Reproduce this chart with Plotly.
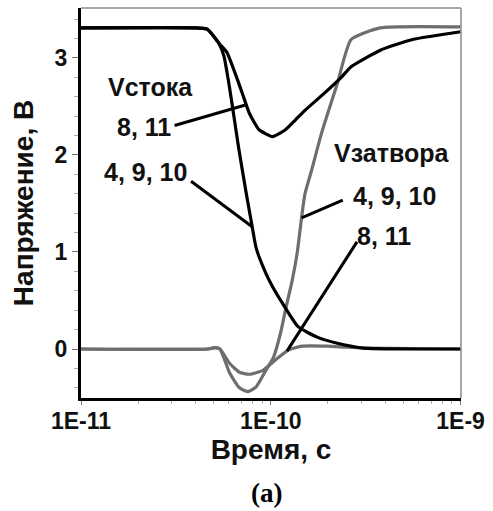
import numpy as np
import plotly.graph_objects as go

# ---- data (time as log10 seconds, voltage in V) ----
drain_a_logt = [-11.0, -10.4, -10.34, -10.320, -10.273, -10.247, -10.222, -10.196, -10.170,
                -10.129, -10.098, -10.077, -10.026, -9.990, -9.938, -9.856, -9.753,
                -9.650, -9.510, -9.0]
drain_a_v = [3.31, 3.31, 3.30, 3.27, 3.15, 3.02, 2.75, 2.42, 2.08,
             1.60, 1.26, 1.04, 0.78, 0.64, 0.47, 0.23, 0.12,
             0.06, 0.01, 0.0]

drain_b_logt = [-11.0, -10.4, -10.34, -10.320, -10.273, -10.232, -10.180, -10.144, -10.113,
                -10.062, -9.990, -9.923, -9.871, -9.820, -9.716, -9.629, -9.577,
                -9.423, -9.253, -9.0]
drain_b_v = [3.31, 3.31, 3.30, 3.27, 3.15, 3.06, 2.80, 2.60, 2.43,
             2.26, 2.19, 2.26, 2.36, 2.46, 2.64, 2.80, 2.91,
             3.08, 3.19, 3.27]

gate_a_logt = [-11.0, -10.33, -10.294, -10.268, -10.216, -10.165, -10.119, -10.077, -10.026,
               -9.985, -9.948, -9.923, -9.887, -9.861, -9.835, -9.820, -9.784, -9.732,
               -9.649, -9.577, -9.423, -9.0]
gate_a_v = [0.0, 0.0, 0.015, 0.0, -0.25, -0.40, -0.44, -0.39, -0.22,
            -0.08, 0.17, 0.40, 0.71, 0.99, 1.40, 1.60, 1.85, 2.23,
            2.74, 3.19, 3.31, 3.32]

gate_b_logt = [-11.0, -10.33, -10.294, -10.268, -10.216, -10.165, -10.113, -10.041, -9.974,
               -9.907, -9.835, -9.701, -9.613, -9.510, -9.0]
gate_b_v = [0.0, 0.0, 0.015, 0.0, -0.15, -0.24, -0.26, -0.22, -0.11,
            -0.01, 0.03, 0.03, 0.02, 0.01, 0.0]

x_tickvals = [1e-11, 1e-10, 1e-9]
x_ticktext = ["1E-11", "1E-10", "1E-9"]
y_tickvals = [0, 1, 2, 3]

BLACK = "#000000"
GRAY = "#6e6e6e"
FONT = "Arial, Liberation Sans, sans-serif"

def t(logs):
    return [10 ** v for v in logs]

fig = go.Figure()
for lx, ly, col in [(gate_b_logt, gate_b_v, GRAY), (gate_a_logt, gate_a_v, GRAY),
                    (drain_b_logt, drain_b_v, BLACK), (drain_a_logt, drain_a_v, BLACK)]:
    fig.add_trace(go.Scatter(x=t(lx), y=ly, mode="lines",
                             line=dict(color=col, width=3.2, shape="spline", smoothing=0.5),
                             showlegend=False, hoverinfo="skip"))

# ---- labels and leader lines ----
labels = [
    ("Vстока", -10.634, 2.70),
    ("8, 11", -10.670, 2.29),
    ("4, 9, 10", -10.660, 1.82),
    ("Vзатвора", -9.361, 2.02),
    ("4, 9, 10", -9.351, 1.58),
    ("8, 11", -9.405, 1.16),
]
for txt, lx, ly in labels:
    fig.add_annotation(x=lx, y=ly, xref="x", yref="y", text=txt, showarrow=False,
                       font=dict(family=FONT, size=25, color="#111", weight="bold"))

# leader lines: tail (log t, V) -> tip on curve at log t
leaders = [
    ((-10.515, 2.30), -10.129, drain_b_logt, drain_b_v),
    ((-10.428, 1.74), -10.098, drain_a_logt, drain_a_v),
    ((-9.613, 1.54), -9.838, gate_a_logt, gate_a_v),
    ((-9.541, 1.12), -9.915, gate_b_logt, gate_b_v),
]
for (tx, ty), tipx, cx, cy in leaders:
    tipy = float(np.interp(tipx, cx, cy))
    fig.add_annotation(x=tipx, y=tipy, xref="x", yref="y", ax=tx, ay=ty,
                       axref="x", ayref="y", text="", showarrow=True,
                       arrowhead=0, arrowwidth=3, arrowcolor=BLACK, standoff=0,
                       startstandoff=0)

fig.add_annotation(x=0.487, y=-0.244, xref="paper", yref="paper", text="<b>(a)</b>",
                   showarrow=False, yanchor="middle", xanchor="center",
                   font=dict(family="Liberation Serif", size=27, color="#000"))

# top / right thin gray frame
fig.add_shape(type="line", xref="paper", yref="paper", x0=0, x1=1, y0=1, y1=1,
              line=dict(color="#8a8a8a", width=1.5))
fig.add_shape(type="line", xref="paper", yref="paper", x0=1, x1=1, y0=0, y1=1,
              line=dict(color="#8a8a8a", width=1.5))

fig.update_layout(
    width=493, height=511,
    margin=dict(l=81, r=24, t=8, b=113),
    paper_bgcolor="white", plot_bgcolor="white",
    font=dict(family=FONT, color="#111"),
)
fig.update_xaxes(
    type="log", range=[-11, -8.998],
    tickvals=x_tickvals, ticktext=x_ticktext,
    tickfont=dict(family=FONT, size=23, weight="bold", color="#111"),
    showline=True, linecolor=BLACK, linewidth=3, mirror=False,
    ticks="outside", ticklen=4, tickcolor="#777", tickwidth=1, ticklabelstandoff=-4,
    minor=dict(ticks="outside", ticklen=3, tickcolor="#aaa", tickwidth=1, dtick="D1"),
    showgrid=False, zeroline=False,
    title=dict(text="Время, с", font=dict(family=FONT, size=28, weight="bold", color="#111"),
               standoff=2),
)
fig.update_yaxes(
    range=[-0.505, 3.515],
    tickvals=y_tickvals,
    tickfont=dict(family=FONT, size=23, weight="bold", color="#111"),
    showline=True, linecolor=BLACK, linewidth=3, mirror=False,
    ticks="outside", ticklen=6, tickcolor="#777", tickwidth=1,
    minor=dict(ticks="outside", ticklen=4, tickcolor="#aaa", tickwidth=1, dtick=0.2),
    showgrid=False, zeroline=False,
    title=dict(text="Напряжение, В", font=dict(family=FONT, size=28, weight="bold", color="#111"),
               standoff=13),
)

fig.write_html("out.html")
